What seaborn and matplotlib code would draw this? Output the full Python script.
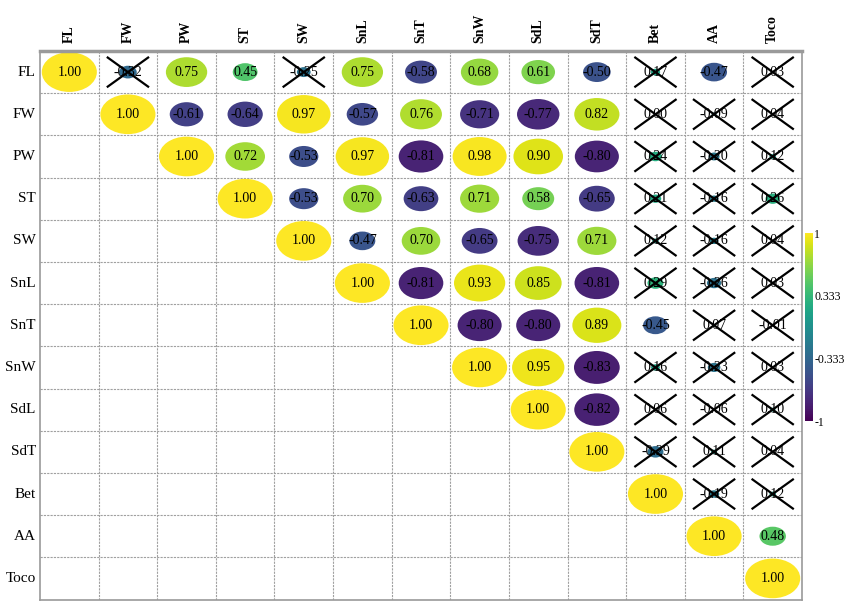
import numpy as np
import pandas as pd
import matplotlib
matplotlib.use("Agg")
import matplotlib.pyplot as plt
from matplotlib.patches import Ellipse
from matplotlib.colors import Normalize
import seaborn as sns

plt.rcParams["font.family"] = ["Liberation Serif", "DejaVu Serif"]

traits = ["FL", "FW", "PW", "ST", "SW", "SnL", "SnT", "SnW", "SdL", "SdT", "Bet", "AA", "Toco"]

# upper-triangle correlation coefficients, one list per row (diagonal first)
r_FL = [1.00, -0.32, 0.75, 0.45, -0.25, 0.75, -0.58, 0.68, 0.61, -0.50, 0.17, -0.47, 0.03]
r_FW = [1.00, -0.61, -0.64, 0.97, -0.57, 0.76, -0.71, -0.77, 0.82, 0.00, -0.09, 0.04]
r_PW = [1.00, 0.72, -0.53, 0.97, -0.81, 0.98, 0.90, -0.80, 0.24, -0.20, 0.12]
r_ST = [1.00, -0.53, 0.70, -0.63, 0.71, 0.58, -0.65, 0.21, -0.16, 0.26]
r_SW = [1.00, -0.47, 0.70, -0.65, -0.75, 0.71, 0.12, -0.16, 0.04]
r_SnL = [1.00, -0.81, 0.93, 0.85, -0.81, 0.29, -0.26, 0.03]
r_SnT = [1.00, -0.80, -0.80, 0.89, -0.45, 0.07, -0.01]
r_SnW = [1.00, 0.95, -0.83, 0.16, -0.23, 0.03]
r_SdL = [1.00, -0.82, 0.06, -0.06, 0.10]
r_SdT = [1.00, -0.29, 0.11, 0.04]
r_Bet = [1.00, -0.19, 0.12]
r_AA = [1.00, 0.48]
r_Toco = [1.00]

# 1 = not significant (crossed out), same layout as above
ns_FL = [0, 1, 0, 0, 1, 0, 0, 0, 0, 0, 1, 0, 1]
ns_FW = [0, 0, 0, 0, 0, 0, 0, 0, 0, 1, 1, 1]
ns_PW = [0, 0, 0, 0, 0, 0, 0, 0, 1, 1, 1]
ns_ST = [0, 0, 0, 0, 0, 0, 0, 1, 1, 1]
ns_SW = [0, 0, 0, 0, 0, 0, 1, 1, 1]
ns_SnL = [0, 0, 0, 0, 0, 1, 1, 1]
ns_SnT = [0, 0, 0, 0, 0, 1, 1]
ns_SnW = [0, 0, 0, 1, 1, 1]
ns_SdL = [0, 0, 1, 1, 1]
ns_SdT = [0, 1, 1, 1]
ns_Bet = [0, 1, 1]
ns_AA = [0, 0]
ns_Toco = [0]

rows_r = [r_FL, r_FW, r_PW, r_ST, r_SW, r_SnL, r_SnT, r_SnW, r_SdL, r_SdT, r_Bet, r_AA, r_Toco]
rows_ns = [ns_FL, ns_FW, ns_PW, ns_ST, ns_SW, ns_SnL, ns_SnT, ns_SnW, ns_SdL, ns_SdT, ns_Bet, ns_AA, ns_Toco]

n = len(traits)
mat = np.full((n, n), np.nan)
nsig = np.zeros((n, n), dtype=bool)
for i, (vals, flags) in enumerate(zip(rows_r, rows_ns)):
    for k, v in enumerate(vals):
        mat[i, i + k] = v
        nsig[i, i + k] = bool(flags[k])

df = pd.DataFrame(mat, index=traits, columns=traits)

W, H = 847, 601
fig = plt.figure(figsize=(W / 100, H / 100), dpi=100)
ax = fig.add_axes([40 / W, 1.5 / H, 762 / W, 548.5 / H])
cax = fig.add_axes([805 / W, 180 / H, 8 / W, 188 / H])

cmap = plt.get_cmap("viridis")
norm = Normalize(vmin=-1, vmax=1)

# empty heatmap provides the grid of cells, the labels and the colour bar
sns.heatmap(df, mask=np.ones_like(mat, dtype=bool), cmap=cmap, vmin=-1, vmax=1,
            ax=ax, cbar_ax=cax, xticklabels=traits, yticklabels=traits)

# dashed cell borders
for k in range(1, n):
    ax.axhline(k, color="#a0a0a0", lw=0.8, ls=(0, (2, 1)), zorder=1)
    ax.axvline(k, color="#a0a0a0", lw=0.8, ls=(0, (2, 1)), zorder=1)

for s in ax.spines.values():
    s.set_visible(True)
    s.set_color("#9a9a9a")
    s.set_linewidth(1.2)
ax.spines["top"].set_linewidth(2.5)

# ellipses sized by |r|, coloured by r; non-significant cells crossed out
for i in range(n):
    for j in range(n):
        v = mat[i, j]
        if np.isnan(v):
            continue
        d = 0.94 * abs(v)
        ax.add_patch(Ellipse((j + 0.5, i + 0.5), d, d, facecolor=cmap(norm(v)),
                             edgecolor="none", zorder=2))
        ax.text(j + 0.5, i + 0.5, f"{v:.2f}", ha="center", va="center",
                fontsize=10, color="black", zorder=3)
        if nsig[i, j]:
            e = 0.36
            ax.plot([j + 0.5 - e, j + 0.5 + e], [i + 0.5 - e, i + 0.5 + e],
                    color="black", lw=1.6, zorder=4, solid_capstyle="butt")
            ax.plot([j + 0.5 - e, j + 0.5 + e], [i + 0.5 + e, i + 0.5 - e],
                    color="black", lw=1.6, zorder=4, solid_capstyle="butt")

ax.xaxis.tick_top()
ax.set_xticklabels(traits, rotation=90, fontsize=10, fontweight="bold")
ax.set_yticklabels(traits, rotation=0, fontsize=11)
ax.tick_params(axis="both", length=0)
ax.tick_params(axis="x", pad=6)
ax.tick_params(axis="y", pad=3)
ax.set_xlabel("")
ax.set_ylabel("")

cbar = ax.collections[0].colorbar
cbar.set_ticks([-1, -0.333, 0.333, 1])
cbar.set_ticklabels(["-1", "-0.333", "0.333", "1"])
cbar.outline.set_visible(False)
cax.tick_params(length=0, labelsize=8.5, pad=1)

fig.savefig("out.png", dpi=100)
